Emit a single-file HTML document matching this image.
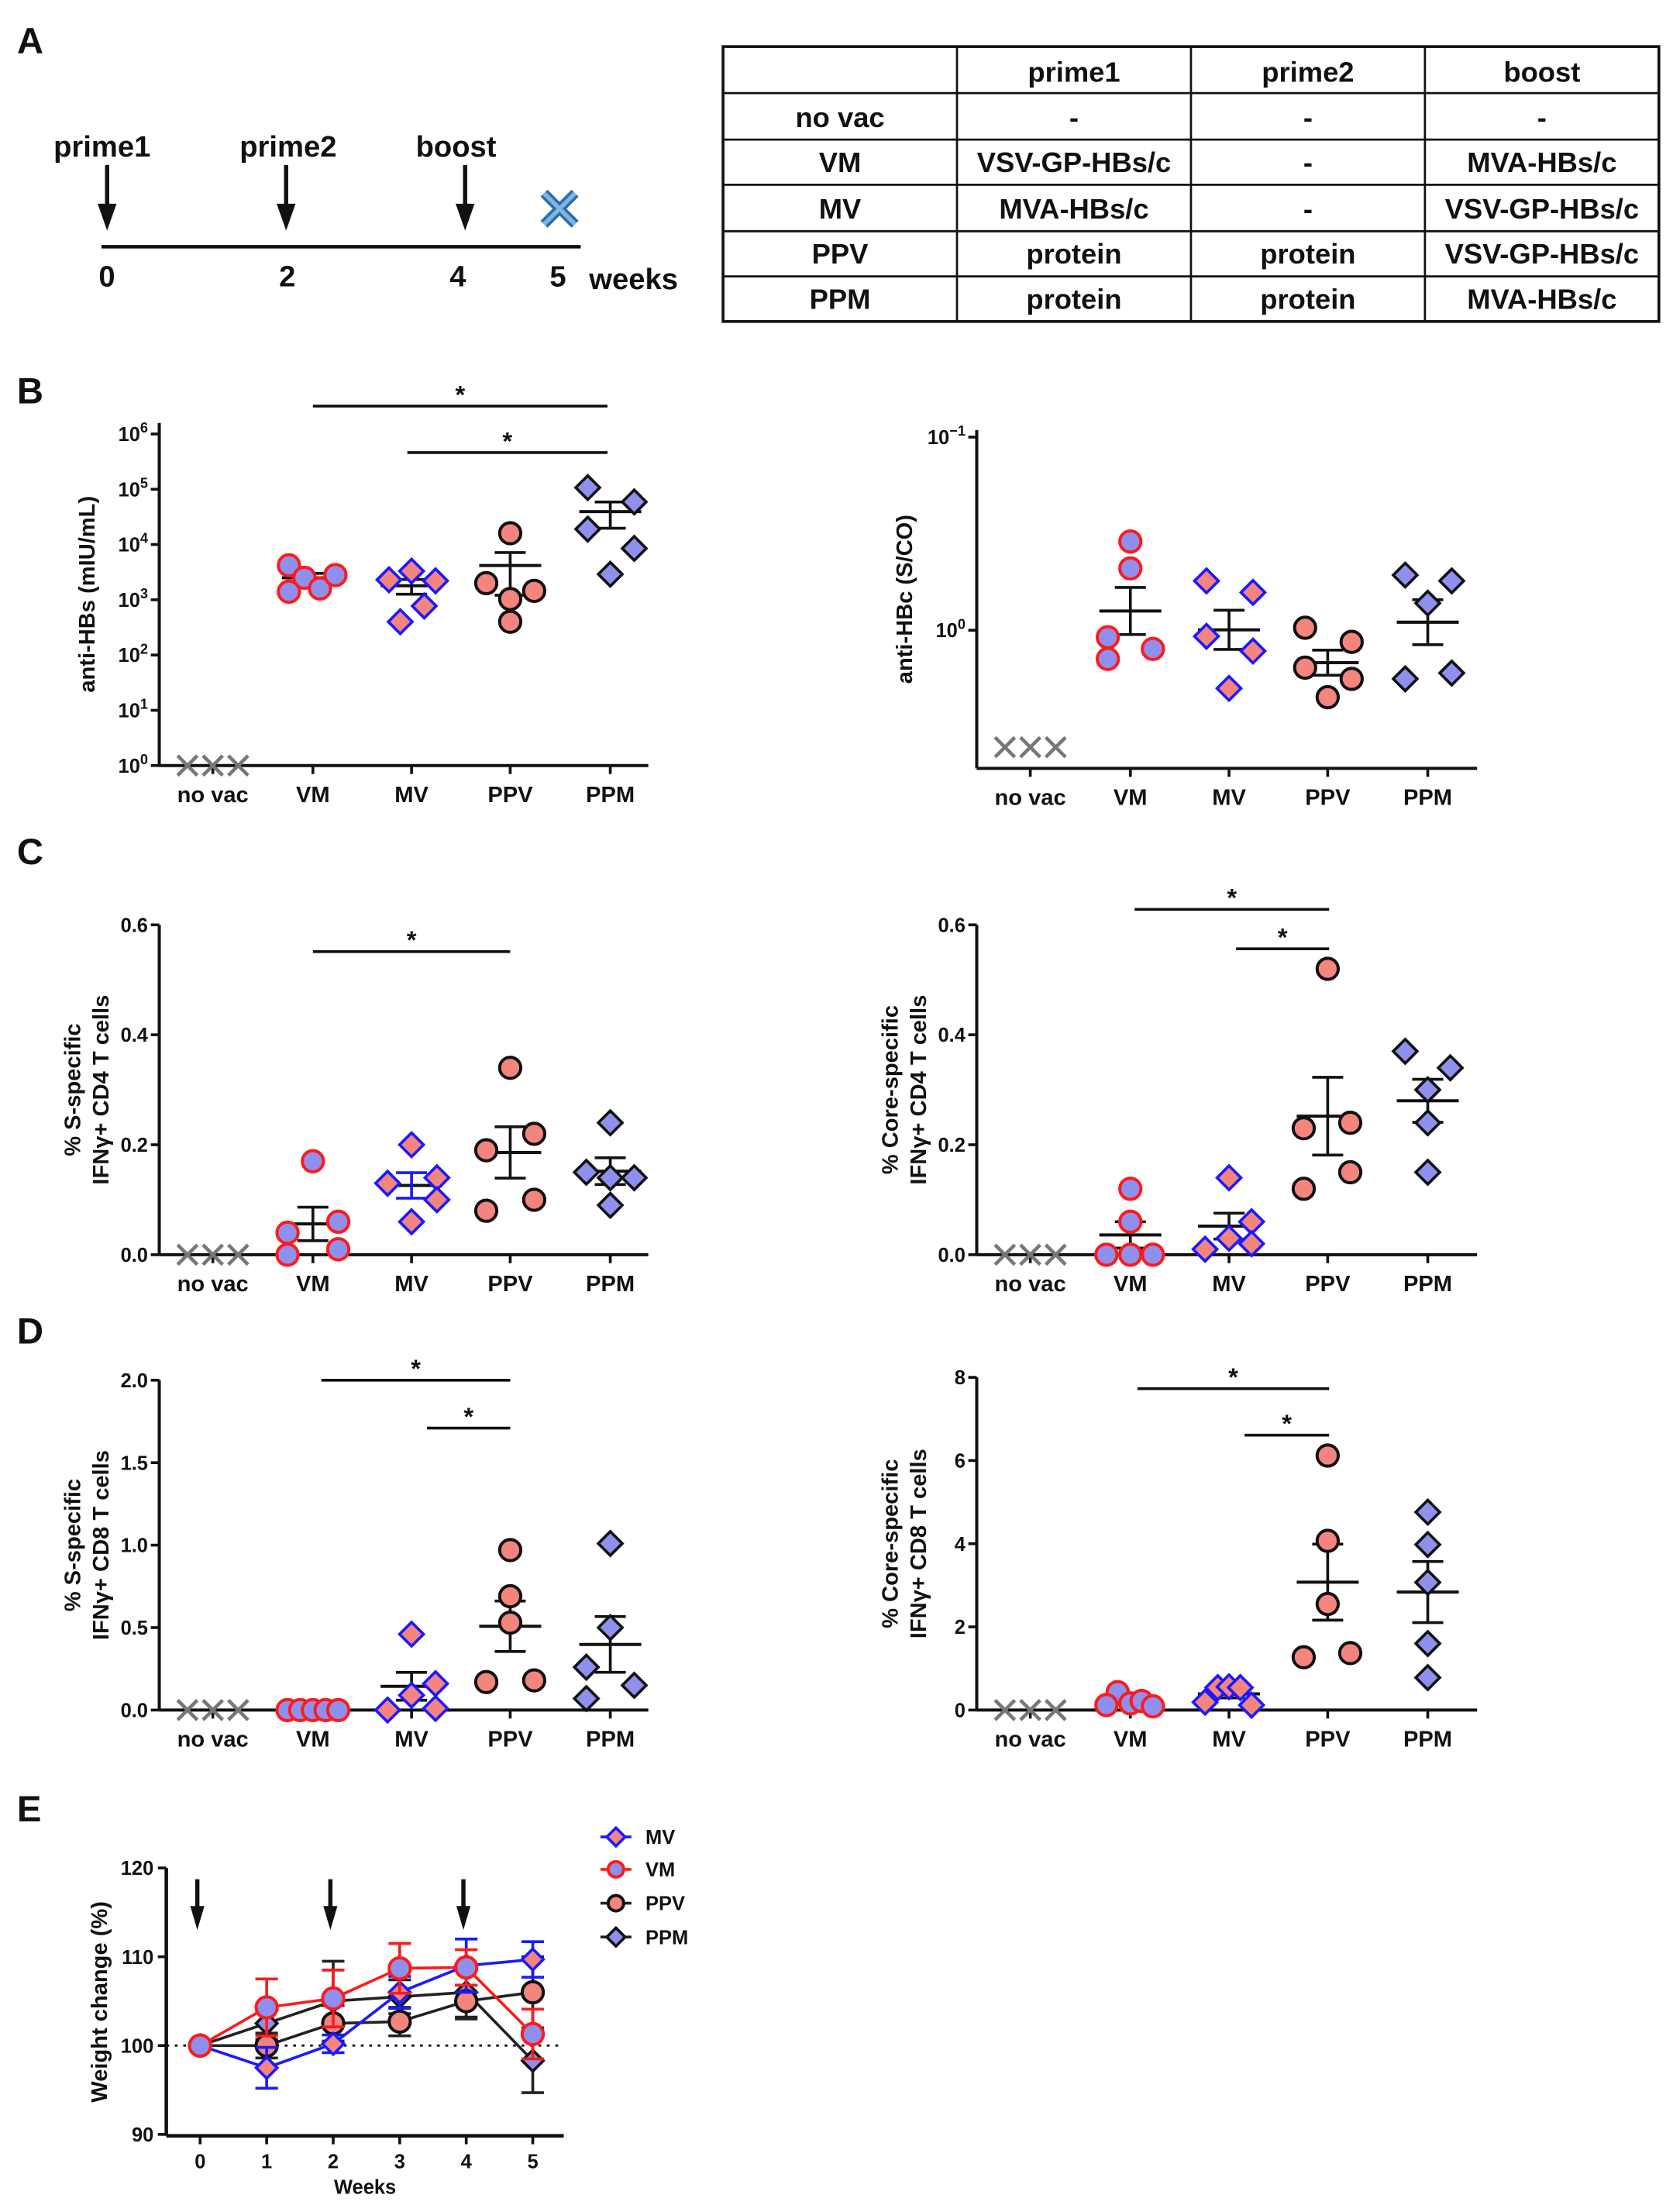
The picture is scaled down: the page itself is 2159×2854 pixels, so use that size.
<!DOCTYPE html>
<html><head><meta charset="utf-8"><style>
html,body{margin:0;padding:0;background:#fff}
svg{display:block}
text{font-family:"Liberation Sans",Arial,sans-serif;font-weight:bold;fill:#111}
</style></head><body>
<svg id="fig" width="2159" height="2854" viewBox="0 0 1187 1569" xmlns="http://www.w3.org/2000/svg">
<g>
<text x="12" y="38" font-size="26">A</text>
<line x1="72" y1="175" x2="412" y2="175" stroke="#111" stroke-width="2.5"/>
<text x="38" y="111" font-size="21">prime1</text>
<text x="170" y="111" font-size="21">prime2</text>
<text x="295" y="111" font-size="21">boost</text>
<g fill="#111" stroke="#111">
<line x1="76" y1="117" x2="76" y2="150" stroke-width="3"/><polygon points="70,145 82,145 76,162"/>
<line x1="203" y1="117" x2="203" y2="150" stroke-width="3"/><polygon points="197,145 209,145 203,162"/>
<line x1="330" y1="117" x2="330" y2="150" stroke-width="3"/><polygon points="324,145 336,145 330,162"/>
</g>
<g><line x1="386" y1="137" x2="408" y2="159" stroke="#2a6fa8" stroke-width="7"/><line x1="408" y1="137" x2="386" y2="159" stroke="#2a6fa8" stroke-width="7"/><line x1="386" y1="137" x2="408" y2="159" stroke="#7fb5e0" stroke-width="3"/><line x1="408" y1="137" x2="386" y2="159" stroke="#7fb5e0" stroke-width="3"/></g>
<text x="70" y="203" font-size="21">0</text>
<text x="198" y="203" font-size="21">2</text>
<text x="319" y="203" font-size="21">4</text>
<text x="390" y="203" font-size="21">5</text>
<text x="418" y="205" font-size="21">weeks</text>
<g stroke="#111" stroke-width="1.5" fill="none">
<rect x="513" y="33" width="664" height="195" stroke-width="2"/>
<line x1="513" y1="66" x2="1177" y2="66"/><line x1="513" y1="99" x2="1177" y2="99"/><line x1="513" y1="131" x2="1177" y2="131"/><line x1="513" y1="164" x2="1177" y2="164"/><line x1="513" y1="196" x2="1177" y2="196"/>
<line x1="679" y1="33" x2="679" y2="228"/><line x1="845" y1="33" x2="845" y2="228"/><line x1="1011" y1="33" x2="1011" y2="228"/>
</g>
<g font-size="20" text-anchor="middle">
<text x="762" y="58">prime1</text><text x="928" y="58">prime2</text><text x="1094" y="58">boost</text>
<text x="596" y="90">no vac</text><text x="762" y="90">-</text><text x="928" y="90">-</text><text x="1094" y="90">-</text>
<text x="596" y="122">VM</text><text x="762" y="122">VSV-GP-HBs/c</text><text x="928" y="122">-</text><text x="1094" y="122">MVA-HBs/c</text>
<text x="596" y="155">MV</text><text x="762" y="155">MVA-HBs/c</text><text x="928" y="155">-</text><text x="1094" y="155">VSV-GP-HBs/c</text>
<text x="596" y="187">PPV</text><text x="762" y="187">protein</text><text x="928" y="187">protein</text><text x="1094" y="187">VSV-GP-HBs/c</text>
<text x="596" y="219">PPM</text><text x="762" y="219">protein</text><text x="928" y="219">protein</text><text x="1094" y="219">MVA-HBs/c</text>
</g>
</g>
<text x="12" y="286" font-size="26">B</text>
<text x="12" y="613" font-size="26">C</text>
<text x="12" y="953" font-size="26">D</text>
<text x="12" y="1292" font-size="26">E</text>
</svg>
<script>
// ---- data ----
const groups = ["no vac","VM","MV","PPV","PPM"];
const bLeftVM = [4200,2500,1600,2800,1400];
const bLeftMV = [2300,3300,2200,770,400];
const bLeftPPV = [16000,2000,1450,1030,400];
const bLeftPPM = [107000,59000,19000,8500,2900];
const bRightVM = [2.88,2.09,0.92,0.80,0.71];
const bRightMV = [1.80,1.57,0.93,0.78,0.50];
const bRightPPV = [1.03,0.87,0.64,0.56,0.45];
const bRightPPM = [1.93,1.80,1.38,0.56,0.60];
const cLeftVM = [0.17,0.04,0.06,0,0.01];
const cLeftMV = [0.20,0.14,0.13,0.10,0.06];
const cLeftPPV = [0.34,0.22,0.19,0.10,0.08];
const cLeftPPM = [0.24,0.15,0.14,0.14,0.09];
const cRightVM = [0.12,0.06,0,0,0];
const cRightMV = [0.14,0.06,0.03,0.02,0.01];
const cRightPPV = [0.52,0.24,0.23,0.15,0.12];
const cRightPPM = [0.37,0.34,0.30,0.24,0.15];
const dLeftVM = [0,0,0,0,0];
const dLeftMV = [0.46,0.16,0.09,0,0.01];
const dLeftPPV = [0.97,0.69,0.53,0.17,0.18];
const dLeftPPM = [1.01,0.50,0.26,0.15,0.07];
const dRightVM = [0.43,0.12,0.16,0.22,0.09];
const dRightMV = [0.54,0.56,0.54,0.19,0.12];
const dRightPPV = [6.12,4.07,2.55,1.37,1.27];
const dRightPPM = [4.76,3.98,3.07,1.60,0.78];
const weeks = [0,1,2,3,4,5];
const eMV = [100,97.5,100.2,106,109,109.7];
const eMVerr = [0,2.3,1,1.8,3,2];
const eVM = [100,104.3,105.3,108.7,108.8,101.3];
const eVMerr = [0,3.2,3.2,2.8,2,2.8];
const ePPV = [100,100,102.5,102.7,105,106];
const ePPVerr = [0,1.4,2,1.6,1.8,4];
const ePPM = [100,102.5,105,105.5,106,98.3];
const ePPMerr = [0,1.8,4.5,1.9,3,3.6];
const cLeftTicks = ["0.0","0.2","0.4","0.6"];
const dLeftTicks = ["0.0","0.5","1.0","1.5","2.0"];
const dRightTicks = ["0","2","4","6","8"];
const eTicks = ["90","100","110","120"];

// horizontal scatter offsets (layout, px)
const L = {
 bl:{VM:[-17,-6,5,16,-17],MV:[-16,0,17,9,-8],PPV:[0,-17,17,0,0],PPM:[-16,17,-16,17,0]},
 br:{VM:[0,0,-16,16,-16],MV:[-16,17,-16,17,0],PPV:[-16,17,-16,17,0],PPM:[-16,17,0,-16,17]},
 cl:{VM:[0,-18,18,-18,18],MV:[0,18,-17,18,0],PPV:[0,17,-17,17,-17],PPM:[0,-17,0,17,0]},
 cr:{VM:[0,0,-17,0,16],MV:[0,16,0,16,-17],PPV:[0,16,-17,16,-17],PPM:[-16,16,0,0,0]},
 dl:{VM:[-18,-9,0,9,18],MV:[0,17,0,-17,17],PPV:[0,0,0,-17,17],PPM:[0,0,-17,17,-17]},
 dr:{VM:[-9,-17,0,8,16],MV:[-8,0,8,-17,16],PPV:[0,0,0,16,-17],PPM:[0,0,0,0,0]}
};

const NS="http://www.w3.org/2000/svg";
const svg=document.getElementById('fig');
function el(tag,attrs,parent){const e=document.createElementNS(NS,tag);for(const k in attrs)e.setAttribute(k,attrs[k]);(parent||svg).appendChild(e);return e;}
const PINK="#f4847e", LAV="#8f90ee";
const styles={
 VM:{shape:'c',fill:LAV,stroke:'#ff1a1a'},
 MV:{shape:'d',fill:PINK,stroke:'#1a1aff'},
 PPV:{shape:'c',fill:PINK,stroke:'#111'},
 PPM:{shape:'d',fill:LAV,stroke:'#111'}
};
function marker(g,x,y,st,r){
 r=r||7.5;
 if(st.shape==='c'){const m=el('circle',{cx:x,cy:y,r:r,fill:st.fill,stroke:st.stroke,'stroke-width':2.2},g);
  
  }
 else{const s=r+1;const m=el('polygon',{points:`${x},${y-s} ${x+s},${y} ${x},${y+s} ${x-s},${y}`,fill:st.fill,stroke:st.stroke,'stroke-width':2},g);
  
  }
}
function dotPanel(name,ax0,yAxisTop,yAxisBottom,xEnd,yf,series,ticks,title,offs){
 const g=el('g',{});
 
 
 const cats=[ax0+38,ax0+109,ax0+179,ax0+249,ax0+320];
 const ya=el('line',{x1:ax0,y1:yAxisTop,x2:ax0,y2:yAxisBottom,stroke:'#111','stroke-width':2.2},g);
 
 
 const xa=el('line',{x1:ax0,y1:yAxisBottom,x2:xEnd,y2:yAxisBottom,stroke:'#111','stroke-width':2.2},g);
 
 
 ticks.forEach(t=>{const y=t.y;el('line',{x1:ax0-6,y1:y,x2:ax0,y2:y,stroke:'#111','stroke-width':2},g);
  const tx=el('text',{x:ax0-8,y:y+5,'font-size':14,'text-anchor':'end'},g);
  
  
  if(t.sup!==undefined){tx.textContent=t.base;const ts=el('tspan',{dy:-6,'font-size':10},tx);ts.textContent=t.sup;}else tx.textContent=t.label;});
 groups.forEach((c,i)=>{el('line',{x1:cats[i],y1:yAxisBottom,x2:cats[i],y2:yAxisBottom+6,stroke:'#111','stroke-width':2},g);
  const t=el('text',{x:cats[i],y:yAxisBottom+26,'font-size':16,'text-anchor':'middle'},g);t.textContent=c;
  
  });
 const tt=el('text',{transform:`translate(${ax0-46},${(yAxisTop+yAxisBottom)/2}) rotate(-90)`,'font-size':16,'text-anchor':'middle'},g);
 
 
 title.forEach((ln,i)=>{const s=el('tspan',{x:0,dy:i===0?(title.length>1?-10:0):20},tt);s.textContent=ln;});
 const yz=series.noVacY;
 [-18,0,18].forEach(o=>{const x=cats[0]+o;
  el('line',{x1:x-7,y1:yz-7,x2:x+7,y2:yz+7,stroke:'#777','stroke-width':2.5},g);
  el('line',{x1:x+7,y1:yz-7,x2:x-7,y2:yz+7,stroke:'#777','stroke-width':2.5},g);});
 ['VM','MV','PPV','PPM'].forEach((k,j)=>{
  const vals=series[k];const cx=cats[j+1];const st=styles[k];
  const n=vals.length;
  let ym,yh,yl;
  if(series.logMean){
   const lv=vals.map(v=>Math.log10(v));const m=lv.reduce((a,b)=>a+b,0)/n;
   const sd=Math.sqrt(lv.reduce((a,b)=>a+(b-m)**2,0)/(n-1));const se=sd/Math.sqrt(n);
   ym=yf(Math.pow(10,m));yh=yf(Math.pow(10,m+se));yl=yf(Math.pow(10,m-se));
  } else {
   const mean=vals.reduce((a,b)=>a+b,0)/n;
   const sd=Math.sqrt(vals.reduce((a,b)=>a+(b-mean)**2,0)/(n-1));const sem=sd/Math.sqrt(n);
   ym=yf(mean);yh=yf(mean+sem);yl=yf(Math.max(mean-sem,series.minV||0));
  }
  const ec=(series.errColor&&series.errColor[k])||'#111';
  const ml=el('line',{x1:cx-22,y1:ym,x2:cx+22,y2:ym,stroke:'#111','stroke-width':2.2},g);
  
  
  el('line',{x1:cx,y1:yh,x2:cx,y2:yl,stroke:ec,'stroke-width':2},g);
  el('line',{x1:cx-11,y1:yh,x2:cx+11,y2:yh,stroke:ec,'stroke-width':2},g);
  el('line',{x1:cx-11,y1:yl,x2:cx+11,y2:yl,stroke:ec,'stroke-width':2},g);
  vals.forEach((v,i)=>marker(g,cx+(offs[k][i]||0),yf(v),st));
 });
 (series.sig||[]).forEach(s=>{const l=el('line',{x1:s[0],y1:s[2],x2:s[1],y2:s[2],stroke:'#111','stroke-width':2},g);
  
  
  const t=el('text',{x:(s[0]+s[1])/2,y:s[2]-2,'font-size':18,'text-anchor':'middle'},g);t.textContent='*';
  
  });
}
const bl=v=>543-Math.log10(v)*39.2;
dotPanel('anti-hbs-chart',113,300,543,460,bl,{VM:bLeftVM,MV:bLeftMV,PPV:bLeftPPV,PPM:bLeftPPM,noVacY:543,minV:1,
 sig:[[222,431,288],[289,431,321]]},
 [0,1,2,3,4,5,6].map(p=>({y:bl(Math.pow(10,p)),base:'10',sup:String(p)})),['anti-HBs (mIU/mL)'],L.bl);
const br=v=>447-Math.log10(v)*137;
dotPanel('anti-hbc-chart',693,305,545,1048,br,{VM:bRightVM,MV:bRightMV,PPV:bRightPPV,PPM:bRightPPM,noVacY:530,logMean:true},
 [{y:310,base:'10',sup:'−1'},{y:447,base:'10',sup:'0'}],['anti-HBc (S/CO)'],L.br);
const cl=v=>890-v*390;
dotPanel('s-specific-cd4-chart',113,656,890,460,cl,{VM:cLeftVM,MV:cLeftMV,PPV:cLeftPPV,PPM:cLeftPPM,noVacY:890,
 errColor:{MV:'#1a1aff'},sig:[[222,362,675]]},cLeftTicks.map(t=>({y:cl(+t),label:t})),['% S-specific','IFNγ+ CD4 T cells'],L.cl);
const cr=v=>890-v*390;
dotPanel('core-specific-cd4-chart',693,656,890,1048,cr,{VM:cRightVM,MV:cRightMV,PPV:cRightPPV,PPM:cRightPPM,noVacY:890,
 sig:[[805,943,645],[877,943,673]]},cLeftTicks.map(t=>({y:cr(+t),label:t})),['% Core-specific','IFNγ+ CD4 T cells'],L.cr);
const dl=v=>1213-v*117;
dotPanel('s-specific-cd8-chart',113,979,1213,460,dl,{VM:dLeftVM,MV:dLeftMV,PPV:dLeftPPV,PPM:dLeftPPM,noVacY:1213,
 sig:[[228,362,979],[303,362,1013]]},dLeftTicks.map(t=>({y:dl(+t),label:t})),['% S-specific','IFNγ+ CD8 T cells'],L.dl);
const dr=v=>1213-v*29.5;
dotPanel('core-specific-cd8-chart',693,977,1213,1048,dr,{VM:dRightVM,MV:dRightMV,PPV:dRightPPV,PPM:dRightPPM,noVacY:1213,
 sig:[[807,943,985],[883,943,1018]]},dRightTicks.map(t=>({y:dr(+t),label:t})),['% Core-specific','IFNγ+ CD8 T cells'],L.dr);

(function(){
 const g=el('g',{});
 
 
 const X=w=>142+w*47.2, Y=v=>1514-(v-90)*6.3;
 el('line',{x1:118,y1:1325,x2:118,y2:1515,stroke:'#111','stroke-width':2.5},g);
 el('line',{x1:118,y1:1515,x2:400,y2:1515,stroke:'#111','stroke-width':2.5},g);
 eTicks.forEach(t=>{el('line',{x1:112,y1:Y(+t),x2:118,y2:Y(+t),stroke:'#111','stroke-width':2},g);
  const tx=el('text',{x:109,y:Y(+t)+5,'font-size':14,'text-anchor':'end'},g);tx.textContent=t;
  
  });
 weeks.forEach(w=>{el('line',{x1:X(w),y1:1515,x2:X(w),y2:1521,stroke:'#111','stroke-width':2},g);
  const tx=el('text',{x:X(w),y:1538,'font-size':14,'text-anchor':'middle'},g);tx.textContent=String(w);
  
  });
 const xt=el('text',{x:259,y:1556,'font-size':14,'text-anchor':'middle'},g);xt.textContent='Weeks';
 
 
 const yt=el('text',{transform:'translate(76,1420) rotate(-90)','font-size':16,'text-anchor':'middle'},g);yt.textContent='Weight change (%)';
 
 
 el('line',{x1:118,y1:Y(100),x2:400,y2:Y(100),stroke:'#111','stroke-width':1.5,'stroke-dasharray':'2,4'},g);
 [0,2,4].forEach(w=>{const x=X(w)-2;el('line',{x1:x,y1:1333,x2:x,y2:1356,stroke:'#111','stroke-width':3},g);
  el('polygon',{points:`${x-5},1352 ${x+5},1352 ${x},1369`,fill:'#111'},g);});
 const ser=[['PPM',ePPM,ePPMerr,'#222'],['PPV',ePPV,ePPVerr,'#222'],['MV',eMV,eMVerr,'#1a1aff'],['VM',eVM,eVMerr,'#ff1a1a']];
 ser.forEach(([k,vals,err,col])=>{
  const sg=el('g',{},g);
  
  
  vals.forEach((v,i)=>{if(err[i]>0){const x=X(weeks[i]);el('line',{x1:x,y1:Y(v+err[i]),x2:x,y2:Y(v-err[i]),stroke:col,'stroke-width':2},sg);
   el('line',{x1:x-8,y1:Y(v+err[i]),x2:x+8,y2:Y(v+err[i]),stroke:col,'stroke-width':2},sg);
   el('line',{x1:x-8,y1:Y(v-err[i]),x2:x+8,y2:Y(v-err[i]),stroke:col,'stroke-width':2},sg);}});
  el('polyline',{points:vals.map((v,i)=>X(weeks[i])+','+Y(v)).join(' '),fill:'none',stroke:col,'stroke-width':2},sg);
  vals.forEach((v,i)=>marker(sg,X(weeks[i]),Y(v),styles[k],k==='VM'||k==='PPV'?7.5:6.5));
 });
 const leg=[['MV',1303,'#1a1aff'],['VM',1326,'#ff1a1a'],['PPV',1350,'#222'],['PPM',1374,'#222']];
 leg.forEach(([k,y,col])=>{const lg=el('g',{},g);
  
  
  el('line',{x1:426,y1:y,x2:448,y2:y,stroke:col,'stroke-width':2},lg);
  marker(lg,437,y,styles[k],5.5);
  const t=el('text',{x:458,y:y+5,'font-size':14},lg);t.textContent=k;});
})();
</script>
</body></html>
